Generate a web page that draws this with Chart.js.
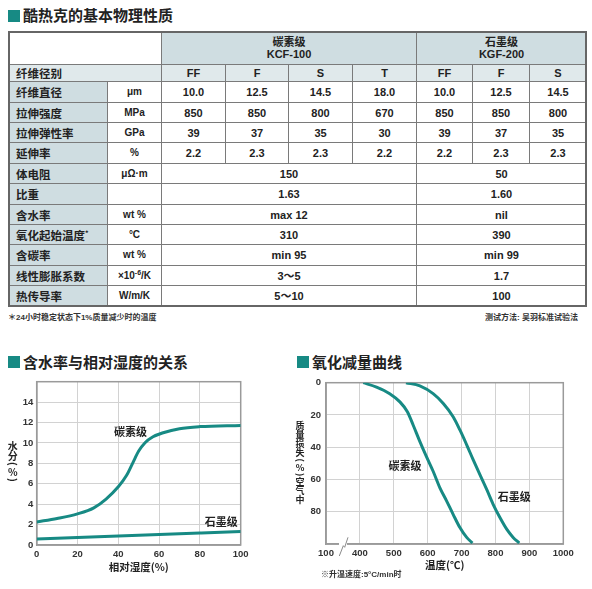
<!DOCTYPE html>
<html>
<head>
<meta charset="utf-8">
<script src="https://cdn.jsdelivr.net/npm/chart.js@4.4.1/dist/chart.umd.min.js"></script>
<style>
body { margin: 0; width: 592px; height: 589px; background: #fff; position: relative; overflow: hidden; color: #222;
  font-family: "Liberation Sans", "Noto Sans CJK SC", sans-serif; }
.sq { position: absolute; width: 12px; height: 12px; background: #178a84; }
.ttl { position: absolute; font: bold 15px "Noto Sans CJK SC", sans-serif; line-height: 18px; color: #222; white-space: nowrap; }
.note { position: absolute; font: bold 8px "Liberation Sans", "Noto Sans CJK SC", sans-serif; line-height: 10px; color: #333; white-space: nowrap; }
#tbl { position: absolute; left: 8px; top: 31px; width: 579px; height: 276px; }
#tbl .c { position: absolute; box-sizing: border-box; border-right: 1.5px solid #7a7a7a; border-bottom: 1.5px solid #7a7a7a;
  display: flex; align-items: center; justify-content: center; text-align: center;
  font: bold 11px "Liberation Sans", "Noto Sans CJK SC", sans-serif; line-height: 12px; color: #222; }
#tbl .lab { justify-content: flex-start; padding-left: 8px; font-family: "Noto Sans CJK SC", sans-serif; font-size: 11.5px; }
#tbl .unit { font-size: 10px; }
#tbl .h1 { background: #cfdde1; }
#tbl .h2 { background: #e0e9eb; }
#tbl sup { font-size: 7px; line-height: 0; vertical-align: 4px; }
#frame { position: absolute; left: 8px; top: 31px; width: 579px; height: 276px; box-sizing: border-box; border: 2px solid #666; }
canvas { position: absolute; }
</style>
</head>
<body>
<div class="sq" style="left:8px;top:10px"></div>
<div class="ttl" style="left:23px;top:6px">酷热克的基本物理性质</div>
<div id="tbl"></div>
<div id="frame"></div>
<div class="note" style="left:8px;top:313px">＊24小时稳定状态下1%质量减少时的温度</div>
<div class="note" style="right:14px;top:313px">测试方法: 吴羽标准试验法</div>

<div class="sq" style="left:8px;top:356px"></div>
<div class="ttl" style="left:23px;top:353px">含水率与相对湿度的关系</div>
<div class="sq" style="left:297px;top:356px"></div>
<div class="ttl" style="left:312px;top:353px">氧化减量曲线</div>

<canvas id="rh" width="262" height="206" style="left:0px;top:372px"></canvas>
<canvas id="ox" width="290" height="206" style="left:290px;top:372px"></canvas>
<div class="note" style="left:321px;top:570px">※升温速度:5°C/min时</div>

<script>
// table data
const carbonName = ['碳素级', 'KCF-100'];
const graphiteName = ['石墨级', 'KGF-200'];
const gradeCodes = ['FF', 'F', 'S', 'T', 'FF', 'F', 'S'];
const gradeLabel = '纤维径别';
const gradeRowLabels = ['纤维直径', '拉伸强度', '拉伸弹性率', '延伸率'];
const gradeRowUnits = ['μm', 'MPa', 'GPa', '%'];
const gradeRowValues = [
    ['10.0', '12.5', '14.5', '18.0', '10.0', '12.5', '14.5'],
    ['850', '850', '800', '670', '850', '850', '800'],
    ['39', '37', '35', '30', '39', '37', '35'],
    ['2.2', '2.3', '2.3', '2.2', '2.2', '2.3', '2.3']
];
const commonLabels = ['体电阻', '比重', '含水率', '氧化起始温度<sup>*</sup>', '含碳率', '线性膨胀系数', '热传导率'];
const commonUnits = ['μΩ·m', '', 'wt %', '°C', 'wt %', '×10<sup>-6</sup>/K', 'W/m/K'];
const carbonCommon = ['150', '1.63', 'max 12', '310', 'min 95', '3～5', '5～10'];
const graphiteCommon = ['50', '1.60', 'nil', '390', 'min 99', '1.7', '100'];

// moisture vs relative humidity
const rhCarbonX = [0, 10, 20, 28, 34, 40, 44, 47, 50, 53, 57, 62, 70, 80, 100];
const rhCarbonY = [2.26, 2.6, 3.05, 3.64, 4.5, 5.7, 6.8, 8.0, 9.2, 10.0, 10.6, 11.0, 11.4, 11.6, 11.72];
const rhGraphiteX = [0, 20, 40, 60, 80, 100];
const rhGraphiteY = [0.6, 0.74, 0.88, 1.03, 1.18, 1.33];

// oxidation weight loss
const oxCarbonT = [410, 449, 488, 518, 540, 557, 577, 596, 616, 636, 656, 675, 695, 715, 732];
const oxCarbonLoss = [0, 2.7, 6.8, 11.9, 18, 26.2, 36.5, 45.7, 54.9, 65.2, 73.4, 81.6, 89.8, 95.9, 99.4];
const oxGraphiteT = [536, 577, 616, 646, 675, 695, 715, 734, 754, 774, 793, 813, 833, 852, 870];
const oxGraphiteLoss = [0, 2, 6.8, 12.9, 21.1, 29.3, 38.5, 47.7, 57, 66.2, 75.4, 83.6, 90.8, 95.9, 99.4];

const teal = '#178a84';

// build table
const colX = [0, 100, 154, 218, 281, 345, 409, 465, 522, 579];
const rowY = [0, 34, 51, 72, 92, 112, 133, 153, 174, 194, 214, 235, 255, 276];
const tbl = document.getElementById('tbl');
function cell(c0, c1, r, html, cls) {
    const d = document.createElement('div');
    d.className = 'c ' + (cls || '');
    d.style.left = colX[c0] + 'px';
    d.style.width = (colX[c1] - colX[c0]) + 'px';
    d.style.top = rowY[r] + 'px';
    d.style.height = (rowY[r + 1] - rowY[r]) + 'px';
    d.innerHTML = '<span>' + html + '</span>';
    tbl.appendChild(d);
}
cell(0, 2, 0, '', '');
cell(2, 6, 0, carbonName.join('<br>'), 'h1');
cell(6, 9, 0, graphiteName.join('<br>'), 'h1');
cell(0, 2, 1, gradeLabel, 'h2 lab');
gradeCodes.forEach((g, i) => cell(i + 2, i + 3, 1, g, 'h2'));
gradeRowLabels.forEach((lab, r) => {
    cell(0, 1, r + 2, lab, 'h1 lab');
    cell(1, 2, r + 2, gradeRowUnits[r], 'unit');
    gradeRowValues[r].forEach((v, i) => cell(i + 2, i + 3, r + 2, v, ''));
});
commonLabels.forEach((lab, r) => {
    const row = r + 2 + gradeRowLabels.length;
    cell(0, 1, row, lab, 'h1 lab');
    cell(1, 2, row, commonUnits[r], 'unit');
    cell(2, 6, row, carbonCommon[r], '');
    cell(6, 9, row, graphiteCommon[r], '');
});

// charts
Chart.defaults.font.family = '"Liberation Sans", "Noto Sans CJK SC", sans-serif';
Chart.defaults.color = '#333';
const tickFont = { size: 9.5, weight: 'bold' };
const cjk = '"Noto Sans CJK SC", sans-serif';

const framePlugin = {
    id: 'frame',
    beforeDatasetsDraw(chart) {
        const a = chart.chartArea, ctx = chart.ctx;
        ctx.save();
        ctx.strokeStyle = '#9a9a9a';
        ctx.lineWidth = 1.5;
        ctx.strokeRect(a.left, a.top, a.right - a.left, a.bottom - a.top);
        ctx.restore();
    }
};

// stacked vertical axis title, parentheses turned sideways
function verticalTitle(text, cx, top, size) {
    return {
        id: 'vtitle',
        afterDraw(chart) {
            const ctx = chart.ctx;
            ctx.save();
            ctx.font = 'bold ' + size + 'px ' + cjk;
            ctx.fillStyle = '#222';
            ctx.textAlign = 'center';
            ctx.textBaseline = 'middle';
            let y = top;
            for (const ch of text) {
                const paren = ch === '(' || ch === ')';
                const adv = paren ? size * 0.6 : size;
                const cy = y + adv / 2;
                if (paren) {
                    ctx.save();
                    ctx.translate(cx, cy);
                    ctx.rotate(Math.PI / 2);
                    ctx.fillText(ch, 0, 0);
                    ctx.restore();
                } else {
                    ctx.fillText(ch, cx, cy);
                }
                y += adv;
            }
            ctx.restore();
        }
    };
}

function curveLabels(items) {
    return {
        id: 'clabels',
        afterDatasetsDraw(chart) {
            const ctx = chart.ctx, xs = chart.scales.x, ys = chart.scales.y;
            ctx.save();
            ctx.font = 'bold 11px ' + cjk;
            ctx.fillStyle = '#222';
            ctx.textAlign = 'center';
            ctx.textBaseline = 'middle';
            items.forEach(it => ctx.fillText(it.text, xs.getPixelForValue(it.x), ys.getPixelForValue(it.y)));
            ctx.restore();
        }
    };
}

function lineSet(xs, ys) {
    return {
        data: xs.map((x, i) => ({ x: x, y: ys[i] })),
        borderColor: teal,
        borderWidth: 3,
        pointRadius: 0,
        fill: false,
        cubicInterpolationMode: 'monotone'
    };
}

const gridOpts = { color: '#d2d2d2', lineWidth: 1, drawTicks: false };
const borderOpts = { color: '#9a9a9a', width: 1.5 };

new Chart(document.getElementById('rh'), {
    type: 'line',
    data: { datasets: [lineSet(rhCarbonX, rhCarbonY), lineSet(rhGraphiteX, rhGraphiteY)] },
    options: {
        responsive: false,
        animation: false,
        layout: { padding: { top: 9.7, right: 21.3, bottom: 0, left: 0 } },
        plugins: { legend: { display: false }, tooltip: { enabled: false } },
        scales: {
            x: {
                type: 'linear', min: 0, max: 100,
                ticks: { stepSize: 20, padding: 4, font: tickFont, maxRotation: 0 },
                grid: gridOpts, border: borderOpts,
                title: { display: true, text: '相对湿度(%)', font: { family: cjk, size: 10.5, weight: 'bold' }, color: '#222', padding: { top: 0, bottom: 5 } },
                afterFit(s) { s.height = 33; }
            },
            y: {
                min: 0, max: 16,
                ticks: { stepSize: 2, padding: 3.5, font: tickFont, callback: v => v === 16 ? '' : v },
                grid: gridOpts, border: borderOpts,
                afterFit(s) { s.width = 36.7; }
            }
        }
    },
    plugins: [framePlugin, verticalTitle('水分(%)', 12.7, 69, 10),
        curveLabels([{ text: '碳素级', x: 46, y: 11.1 }, { text: '石墨级', x: 90.5, y: 2.3 }])]
});

const breakPlugin = {
    id: 'axisBreak',
    afterDraw(chart) {
        const a = chart.chartArea, ctx = chart.ctx;
        const x0 = a.left, y0 = a.bottom;
        ctx.save();
        ctx.fillStyle = '#fff';
        ctx.fillRect(x0 + 13, y0 - 2, 8, 4);
        ctx.strokeStyle = '#8a8a8a';
        ctx.lineWidth = 1;
        ctx.beginPath();
        ctx.moveTo(x0 + 13.3, y0 + 12);
        ctx.lineTo(x0 + 17.3, y0 + 1.7);
        ctx.lineTo(x0 + 18.7, y0 + 3.3);
        ctx.lineTo(x0 + 22, y0 - 6.7);
        ctx.stroke();
        ctx.restore();
    }
};

new Chart(document.getElementById('ox'), {
    type: 'line',
    data: { datasets: [lineSet(oxCarbonT, oxCarbonLoss), lineSet(oxGraphiteT, oxGraphiteLoss)] },
    options: {
        responsive: false,
        animation: false,
        layout: { padding: { top: 10.3, right: 16.7, bottom: 0, left: 0 } },
        plugins: { legend: { display: false }, tooltip: { enabled: false } },
        scales: {
            x: {
                type: 'linear', min: 300, max: 1000,
                ticks: { stepSize: 100, padding: 4, font: tickFont, maxRotation: 0, callback: v => v === 300 ? '100' : v },
                grid: gridOpts, border: borderOpts,
                title: { display: true, text: '温度(℃)', font: { family: cjk, size: 10.5, weight: 'bold' }, color: '#222', padding: { top: 0, bottom: 6.5 } },
                afterFit(s) { s.height = 34; }
            },
            y: {
                reverse: true, min: 0, max: 100,
                ticks: { stepSize: 20, padding: 5, font: tickFont, callback: v => v === 100 ? '' : v },
                grid: gridOpts, border: borderOpts,
                afterFit(s) { s.width = 36; }
            }
        }
    },
    plugins: [framePlugin, breakPlugin, verticalTitle('质量损失(%)空气中', 10, 49.5, 9),
        curveLabels([{ text: '碳素级', x: 533, y: 51.8 }, { text: '石墨级', x: 855, y: 71 }])]
});
</script>
</body>
</html>
